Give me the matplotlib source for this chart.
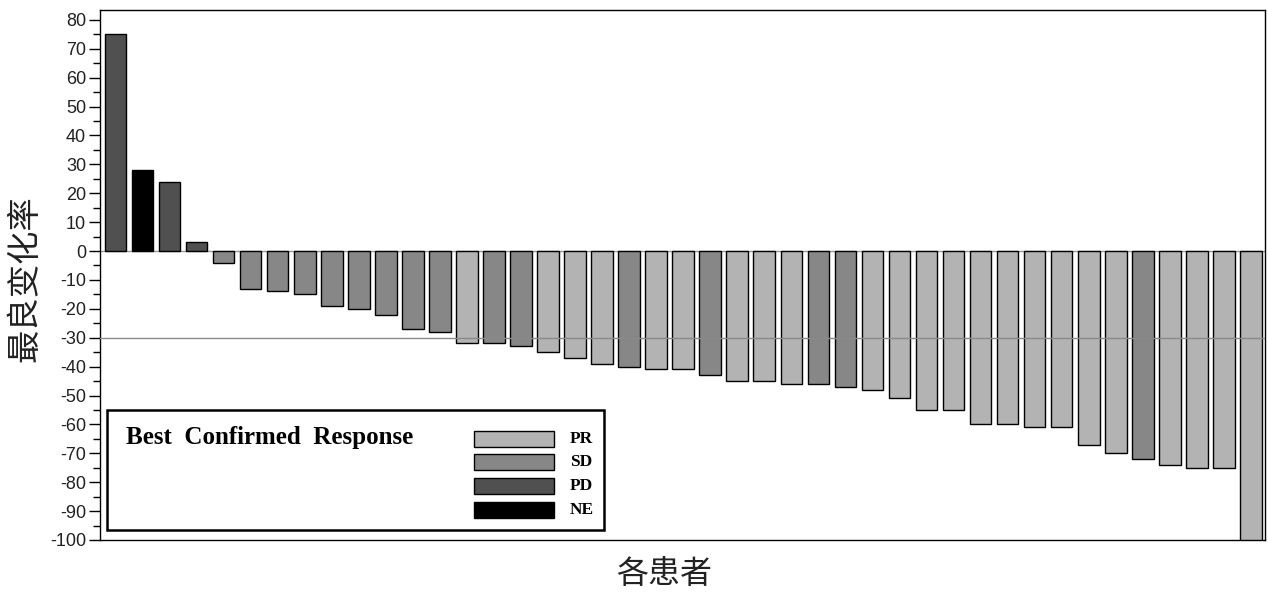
import matplotlib
matplotlib.use("Agg")
import matplotlib.pyplot as plt
from matplotlib.patches import Rectangle
from matplotlib.ticker import MultipleLocator

# ---- data ----
values = [75, 28, 24, 3, -4, -13, -14, -15, -19, -20, -22, -27, -28, -32, -32, -33,
          -35, -37, -39, -40, -41, -41, -43, -45, -45, -46, -46, -47, -48, -51,
          -55, -55, -60, -60, -61, -61, -67, -70, -72, -74, -75, -75, -100]
responses = ["PD", "NE", "PD", "PD", "SD", "SD", "SD", "SD", "SD", "SD", "SD", "SD", "SD",
             "PR", "SD", "SD", "PR", "PR", "PR", "SD", "PR", "PR", "SD", "PR", "PR",
             "PR", "SD", "SD", "PR", "PR", "PR", "PR", "PR", "PR", "PR", "PR", "PR",
             "PR", "SD", "PR", "PR", "PR", "PR"]
categories = ["PR", "SD", "PD", "NE"]
colors = {"PR": "#b3b3b3", "SD": "#878787", "PD": "#505050", "NE": "#000000"}
yticks = list(range(-100, 81, 10))
threshold = -30
legend_title = "Best  Confirmed  Response"
xlabel = "各患者"
ylabel = "最良变化率"

plt.rcParams["font.family"] = ["Liberation Sans", "DejaVu Sans"]
plt.rcParams["axes.unicode_minus"] = False

fig = plt.figure(figsize=(12.68, 5.97), dpi=100)
ax = fig.add_axes([0.0789, 0.0955, 0.9187, 0.8877])

x = list(range(len(values)))
ax.bar(x, values, width=0.8, color=[colors[r] for r in responses],
       edgecolor="black", linewidth=1.0, zorder=3)
ax.axhline(0, color="#9a9a9a", linewidth=1.0, zorder=2)
ax.axhline(threshold, color="#8a8a8a", linewidth=1.0, zorder=4)

ax.set_xlim(-0.57, len(values) - 1 + 0.52)
ax.set_ylim(-100, 83.4)
ax.set_yticks(yticks)
ax.yaxis.set_minor_locator(MultipleLocator(5))
ax.tick_params(axis="y", which="major", length=8, width=1, labelsize=13, pad=2,
               labelcolor="#222222")
ax.tick_params(axis="y", which="minor", length=5, width=1)
ax.set_xticks([])
for s in ax.spines.values():
    s.set_linewidth(1.0)
    s.set_color("black")

ax.set_xlabel(xlabel, fontsize=23, family=["Noto Sans CJK SC", "DejaVu Sans"],
              color="#222222")
ax.xaxis.set_label_coords(0.484, -0.064)
ax.xaxis.label.set_va("center")
ax.set_ylabel(ylabel, fontsize=24, family=["Noto Sans CJK SC", "DejaVu Sans"],
              color="#222222")
ax.yaxis.set_label_coords(-0.0644, 0.494)
ax.yaxis.label.set_va("center")

# ---- legend box ----
tr = ax.transAxes
ax.add_patch(Rectangle((0.006, 0.0189), 0.4266, 0.2264, transform=tr,
                       facecolor="white", edgecolor="black", linewidth=1.8, zorder=5))
ax.text(0.0225, 0.1925, legend_title, transform=tr, fontsize=18,
        fontweight="bold", family="Liberation Serif", va="center", ha="left", zorder=6)
ycent = [0.1906, 0.1472, 0.1019, 0.0566]
for cat, yc in zip(categories, ycent):
    ax.add_patch(Rectangle((0.321, yc - 0.0151), 0.0687, 0.0302, transform=tr,
                           facecolor=colors[cat], edgecolor="black", linewidth=1.0, zorder=6))
    ax.text(0.4034, yc, cat, transform=tr, fontsize=12.5, fontweight="bold",
            family="Liberation Serif", va="center", ha="left", zorder=6)

fig.savefig("out.png", dpi=100)
